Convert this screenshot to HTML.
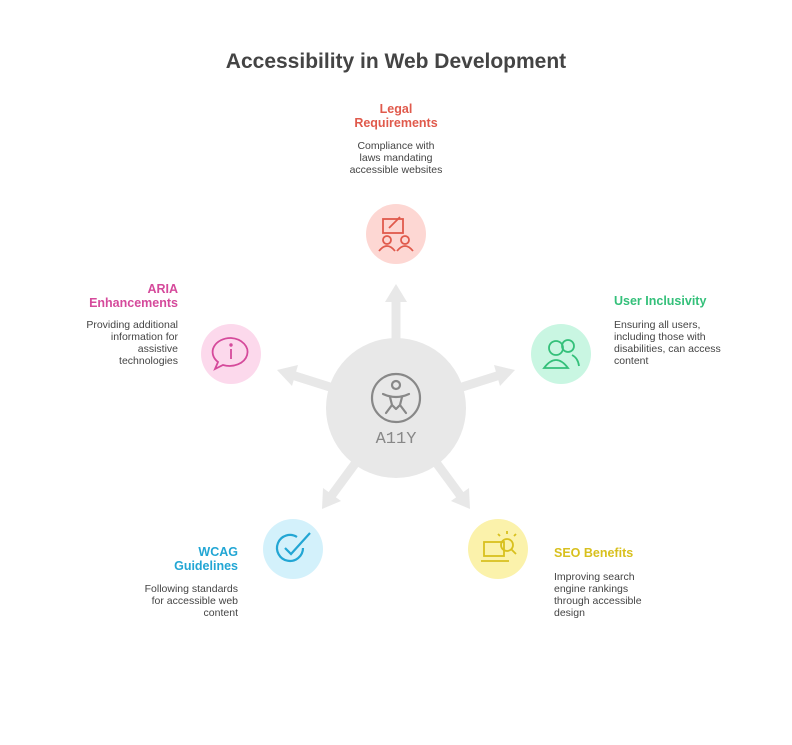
<!DOCTYPE html>
<html><head><style>
body{margin:0;width:792px;height:745px;background:#fff;font-family:"Liberation Sans",sans-serif;position:relative;overflow:hidden}
.t{position:absolute;font-size:12.5px;font-weight:bold;line-height:14px;white-space:nowrap}
.d{position:absolute;font-size:10.5px;color:#444;line-height:12px;white-space:nowrap}
.r{text-align:right}
</style></head><body>
<svg width="792" height="745" style="position:absolute;left:0;top:0">
<text x="396" y="68" text-anchor="middle" font-family="Liberation Sans" font-weight="bold" font-size="21" fill="#444">Accessibility in Web Development</text>
<g fill="#e8e8e8" stroke="#e8e8e8">
<g stroke-width="9">
<line x1="396" y1="345" x2="396" y2="298"/>
<line x1="396" y1="408" x2="500" y2="375"/>
<line x1="396" y1="408" x2="292" y2="375"/>
<line x1="396" y1="408" x2="332" y2="495"/>
<line x1="396" y1="408" x2="460" y2="495"/>
</g>
<polygon points="396,284 385,302 407,302" stroke="none"/>
<polygon points="515,370 494,365 500,386" stroke="none"/>
<polygon points="277,370 298,365 292,386" stroke="none"/>
<polygon points="322,509 323,488 341,501" stroke="none"/>
<polygon points="470,509 469,488 451,501" stroke="none"/>
</g>
<circle cx="396" cy="408" r="70" fill="#e8e8e8"/>
<g fill="none" stroke="#888" stroke-width="2.2" stroke-linecap="round" stroke-linejoin="round">
<circle cx="396" cy="398" r="24"/>
<circle cx="396" cy="385" r="4"/>
<path d="M383 394 Q396 400 409 394 M390 397 L392 405 L386 413 M402 397 L400 405 L406 413 M392 405 L396 409 L400 405"/>
</g>
<text x="396" y="443" text-anchor="middle" font-family="Liberation Mono" font-size="17" fill="#888">A11Y</text>
<circle cx="396" cy="234" r="30" fill="#fdd7d3"/>
<g fill="none" stroke="#e05a4c" stroke-width="1.8">
<rect x="383" y="219" width="20" height="14"/><line x1="389" y1="228" x2="400" y2="217"/>
<circle cx="387" cy="240" r="4"/><path d="M379 251 q8-10 16 0"/>
<circle cx="405" cy="240" r="4"/><path d="M397 251 q8-10 16 0"/>
</g>
<circle cx="561" cy="354" r="30" fill="#c9f6e2"/>
<g fill="none" stroke="#34c07a" stroke-width="1.8">
<circle cx="556" cy="348" r="7"/><path d="M544 368 q12-16 24 0z"/>
<circle cx="568" cy="346" r="6"/><path d="M572 355 q6 3 7 11"/>
</g>
<circle cx="231" cy="354" r="30" fill="#fcd9ec"/>
<g fill="none" stroke="#d54a9b" stroke-width="1.8">
<path d="M231 338 a18 14 0 1 1 -8 27 l-8 4 l3 -7 a18 14 0 0 1 13 -24z"/>
<line x1="231" y1="349" x2="231" y2="359"/><circle cx="231" cy="345" r="0.8"/>
</g>
<circle cx="293" cy="549" r="30" fill="#d3f1fb"/>
<g fill="none" stroke="#22a6d4" stroke-width="2.2">
<path d="M303 548 a13 13 0 1 1 -6 -11"/><path d="M285 548 l6 6 l19 -21"/>
</g>
<circle cx="498" cy="549" r="30" fill="#fbf2ab"/>
<g fill="none" stroke="#d8c01e" stroke-width="1.8">
<rect x="484" y="542" width="20" height="14"/><path d="M481 561 h28"/>
<circle cx="507" cy="545" r="6"/><line x1="511" y1="549" x2="516" y2="554"/>
<path d="M507 534 v-3 M500 536 l-2 -2 M514 536 l2 -2"/>
</g>
</svg>
<div class="t" style="left:316px;top:102px;width:160px;text-align:center;color:#e05a4c">Legal<br>Requirements</div>
<div class="d" style="left:316px;top:140px;width:160px;text-align:center">Compliance with<br>laws mandating<br>accessible websites</div>
<div class="t" style="left:614px;top:294px;color:#34c07a">User Inclusivity</div>
<div class="d" style="left:614px;top:319px">Ensuring all users,<br>including those with<br>disabilities, can access<br>content</div>
<div class="t r" style="left:38px;top:282px;width:140px;color:#d54a9b">ARIA<br>Enhancements</div>
<div class="d r" style="left:28px;top:319px;width:150px">Providing additional<br>information for<br>assistive<br>technologies</div>
<div class="t r" style="left:98px;top:545px;width:140px;color:#22a6d4">WCAG<br>Guidelines</div>
<div class="d r" style="left:88px;top:583px;width:150px">Following standards<br>for accessible web<br>content</div>
<div class="t" style="left:554px;top:546px;color:#d8c01e">SEO Benefits</div>
<div class="d" style="left:554px;top:571px">Improving search<br>engine rankings<br>through accessible<br>design</div>
</body></html>
